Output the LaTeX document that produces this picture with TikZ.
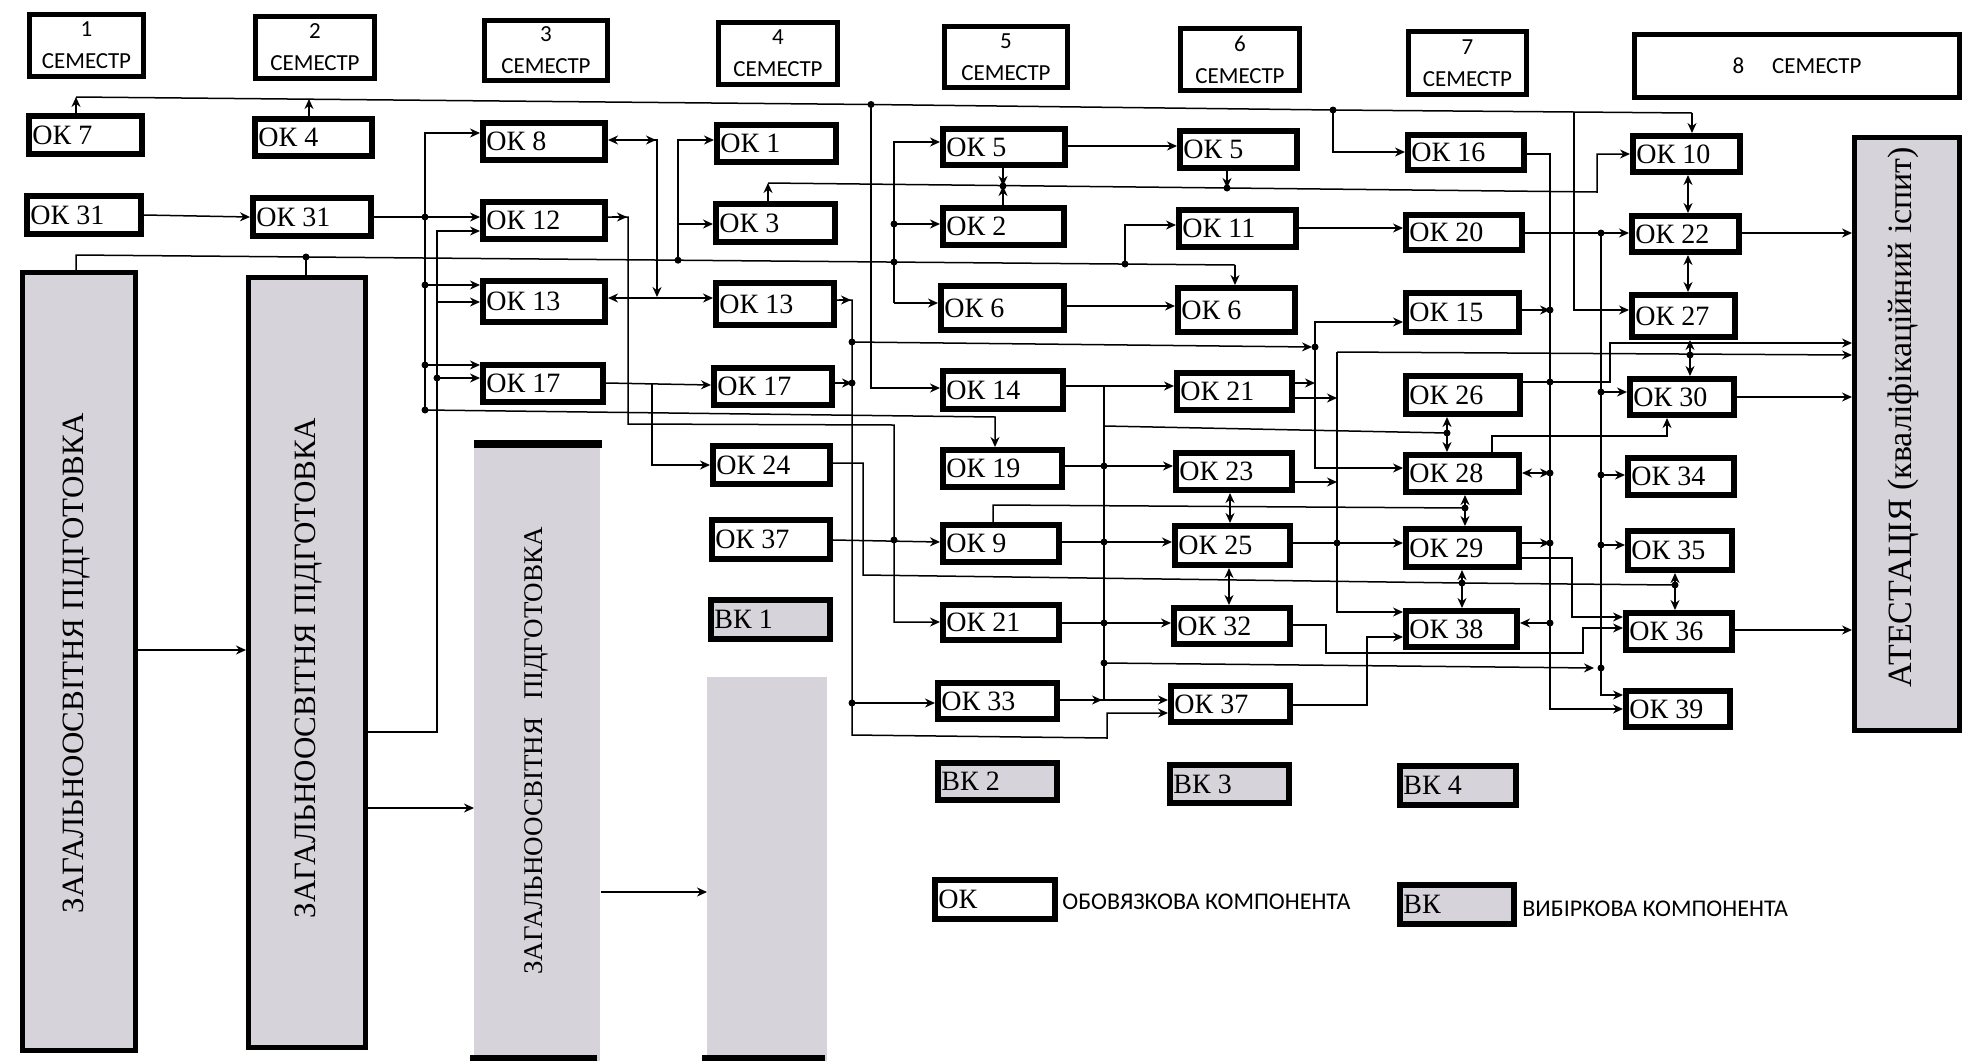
\documentclass[tikz,border=0pt]{standalone}
\usepackage{fontspec}
\setmainfont{Liberation Serif}
\newfontfamily\calib{Carlito}
\usetikzlibrary{arrows.meta}
\definecolor{bkgray}{RGB}{214,212,218}
\newcommand{\okfont}{\rmfamily\fontsize{14}{16}\selectfont}
\newcommand{\semfont}{\calib\fontsize{11.5}{16}\selectfont}
\newcommand{\mybx}[7]{%
 \pgfmathsetmacro{\mybw}{(#5-#3)*0.5-3}%
 \pgfmathsetmacro{\mybh}{(#6-#4)*0.5-3}%
 \node[#1, minimum width=\mybw pt, minimum height=\mybh pt, anchor=north west] (#2) at (#3,#4) {};%
 \node[oktxt] (#2-t) at ([xshift=3pt]#2.west) {#7};}
\newcommand{\mysem}[6]{%
 \pgfmathsetmacro{\mybw}{(#4-#2)*0.5-2.4}%
 \pgfmathsetmacro{\mybh}{(#5-#3)*0.5-2.4}%
 \node[semb, minimum width=\mybw pt, minimum height=\mybh pt, anchor=north west] (#1) at (#2,#3) {#6};}
\newcommand{\mybig}[5]{%
 \pgfmathsetmacro{\mybw}{(#4-#2)*0.5-2.5}%
 \pgfmathsetmacro{\mybh}{(#5-#3)*0.5-2.5}%
 \node[bigb, minimum width=\mybw pt, minimum height=\mybh pt, anchor=north west] (#1) at (#2,#3) {};}
\newcommand{\dt}[1]{\fill (#1) circle (1.75pt);}
\begin{document}
\begin{tikzpicture}[x=0.5pt,y=-0.5pt,
 okb/.style={draw, line width=3pt, fill=white, inner sep=0pt, outer sep=1.5pt},
 bkb/.style={draw, line width=3pt, fill=bkgray, inner sep=0pt, outer sep=1.5pt},
 semb/.style={draw, line width=2.4pt, fill=white, inner sep=0pt, outer sep=1.2pt, align=center, font=\semfont},
 bigb/.style={draw, line width=2.5pt, fill=bkgray, inner sep=0pt, outer sep=1.25pt},
 oktxt/.style={anchor=west, inner sep=0pt, font=\okfont},
 ln/.style={line width=0.75pt},
 arr/.style={-{Stealth[length=5pt,width=4.5pt]}},
 darr/.style={{Stealth[length=5pt,width=4.5pt]}-{Stealth[length=5pt,width=4.5pt]}},
 rtext/.style={rotate=90, inner sep=0pt}
]
\useasboundingbox (0,0) rectangle (1965,1061);
\fill[white] (0,0) rectangle (1965,1061);

% big boxes
\mybig{big1}{20}{270}{138}{1053}
\mybig{big2}{246}{275}{368}{1050}
\node[fill=bkgray, inner sep=0pt, minimum width=63pt, minimum height=309.5pt, anchor=north west] (big3) at (474,442) {};
\fill (474,440) rectangle (602,448);
\fill (470,1055) rectangle (597,1061);
\node[fill=bkgray, inner sep=0pt, minimum width=60pt, minimum height=192pt, anchor=north west] (big4) at (707,677) {};
\fill (702,1055) rectangle (825,1061);
\node[rtext, font=\rmfamily\fontsize{15.5}{18}\selectfont] (big1-t) at (77,663) {ЗАГАЛЬНООСВІТНЯ ПІДГОТОВКА};
\node[rtext, font=\rmfamily\fontsize{15.5}{18}\selectfont] (big2-t) at (309,668) {ЗАГАЛЬНООСВІТНЯ ПІДГОТОВКА};
\node[rtext, font=\rmfamily\fontsize{13.5}{16}\selectfont] (big3-t) at (536,751) {ЗАГАЛЬНООСВІТНЯ\hspace{9pt}ПІДГОТОВКА};
\mybig{att}{1852}{135}{1962}{733}
\node[rtext, font=\rmfamily\fontsize{17}{20}\selectfont] (att-t) at (1903,417) {АТЕСТАЦІЯ (кваліфікаційний іспит)};

% semester boxes
\mysem{s1}{27}{12}{146}{79}{1\\СЕМЕСТР}
\mysem{s2}{253}{14}{377}{81}{2\\СЕМЕСТР}
\mysem{s3}{482}{18}{610}{83}{3\\СЕМЕСТР}
\mysem{s4}{716}{20}{840}{87}{4\\СЕМЕСТР}
\mysem{s5}{942}{24}{1070}{90}{5\\СЕМЕСТР}
\mysem{s6}{1178}{26}{1302}{93}{6\\СЕМЕСТР}
\mysem{s7}{1406}{29}{1529}{97}{7\\СЕМЕСТР}
\mysem{s8}{1632}{32}{1962}{100}{8\hspace{14pt}СЕМЕСТР}

% component boxes
\mybx{okb}{ok7}{26}{113}{145}{157}{ОК 7}
\mybx{okb}{ok4}{252}{116}{375}{159}{ОК 4}
\mybx{okb}{ok31a}{24}{193}{144}{237}{ОК 31}
\mybx{okb}{ok31b}{250}{195}{374}{239}{ОК 31}
\mybx{okb}{ok8}{480}{120}{608}{163}{ОК 8}
\mybx{okb}{ok12}{480}{199}{608}{242}{ОК 12}
\mybx{okb}{ok13a}{480}{278}{608}{325}{ОК 13}
\mybx{okb}{ok17a}{480}{362}{606}{405}{ОК 17}
\mybx{okb}{ok1}{714}{122}{839}{165}{ОК 1}
\mybx{okb}{ok3}{713}{201}{838}{245}{ОК 3}
\mybx{okb}{ok13b}{713}{280}{837}{328}{ОК 13}
\mybx{okb}{ok17b}{711}{365}{835}{408}{ОК 17}
\mybx{okb}{ok24}{710}{443}{833}{487}{ОК 24}
\mybx{okb}{ok37a}{709}{517}{833}{562}{ОК 37}
\mybx{bkb}{bk1}{708}{597}{833}{642}{ВК 1}
\mybx{okb}{ok5a}{940}{126}{1068}{168}{ОК 5}
\mybx{okb}{ok2}{940}{205}{1067}{248}{ОК 2}
\mybx{okb}{ok6a}{938}{283}{1067}{333}{ОК 6}
\mybx{okb}{ok14}{940}{368}{1066}{412}{ОК 14}
\mybx{okb}{ok19}{940}{447}{1065}{490}{ОК 19}
\mybx{okb}{ok9}{940}{522}{1062}{565}{ОК 9}
\mybx{okb}{ok21a}{940}{602}{1062}{643}{ОК 21}
\mybx{okb}{ok33}{935}{680}{1060}{722}{ОК 33}
\mybx{bkb}{bk2}{935}{760}{1060}{803}{ВК 2}
\mybx{okb}{ok5b}{1177}{128}{1300}{171}{ОК 5}
\mybx{okb}{ok11}{1176}{207}{1299}{250}{ОК 11}
\mybx{okb}{ok6b}{1175}{285}{1298}{335}{ОК 6}
\mybx{okb}{ok21b}{1174}{370}{1295}{413}{ОК 21}
\mybx{okb}{ok23}{1173}{450}{1295}{493}{ОК 23}
\mybx{okb}{ok25}{1172}{523}{1293}{568}{ОК 25}
\mybx{okb}{ok32}{1171}{605}{1293}{647}{ОК 32}
\mybx{okb}{ok37b}{1168}{683}{1293}{725}{ОК 37}
\mybx{bkb}{bk3}{1167}{762}{1292}{806}{ВК 3}
\mybx{okb}{ok16}{1405}{132}{1527}{173}{ОК 16}
\mybx{okb}{ok20}{1403}{212}{1525}{253}{ОК 20}
\mybx{okb}{ok15}{1403}{290}{1522}{335}{ОК 15}
\mybx{okb}{ok26}{1403}{373}{1523}{417}{ОК 26}
\mybx{okb}{ok28}{1403}{452}{1522}{495}{ОК 28}
\mybx{okb}{ok29}{1403}{526}{1522}{570}{ОК 29}
\mybx{okb}{ok38}{1403}{608}{1520}{650}{ОК 38}
\mybx{bkb}{bk4}{1397}{763}{1519}{808}{ВК 4}
\mybx{okb}{ok10}{1630}{133}{1743}{175}{ОК 10}
\mybx{okb}{ok22}{1629}{213}{1742}{255}{ОК 22}
\mybx{okb}{ok27}{1629}{292}{1738}{340}{ОК 27}
\mybx{okb}{ok30}{1627}{376}{1737}{418}{ОК 30}
\mybx{okb}{ok34}{1625}{455}{1737}{498}{ОК 34}
\mybx{okb}{ok35}{1625}{528}{1735}{573}{ОК 35}
\mybx{okb}{ok36}{1623}{610}{1735}{653}{ОК 36}
\mybx{okb}{ok39}{1623}{688}{1733}{730}{ОК 39}
% legend
\mybx{okb}{lok}{932}{877}{1058}{922}{ОК}
\mybx{bkb}{lbk}{1397}{882}{1517}{927}{ВК}
\node[anchor=west, inner sep=0pt, font=\calib\fontsize{12}{14}\selectfont] (lok-d) at (1062,902) {ОБОВЯЗКОВА КОМПОНЕНТА};
\node[anchor=west, inner sep=0pt, font=\calib\fontsize{12}{14}\selectfont] (lbk-d) at (1522,909) {ВИБІРКОВА КОМПОНЕНТА};

% ---------- connectors ----------
% top bus
\draw[ln,arr] (76,0 |- ok7.north) -- (76,97);
\draw[ln,arr] (309,0 |- ok4.north) -- (309,99);
\draw[ln] (76,97) -- (871,104.5) -- (1333,110) -- (1574,112) -- (1692,113);
\draw[ln,arr] (1692,113) -- (1692,0 |- ok10.north);
\dt{871,104.5} \dt{1333,110}
\draw[ln,arr] (871,104.5) -- (871,388) -- (ok14.west |- 0,388);
\draw[ln,arr] (1333,110) -- (1333,152) -- (ok16.west |- 0,152);
\draw[ln,arr] (1574,112) -- (1574,310) -- (ok27.west |- 0,310);

% semester 1-3 links
\draw[ln,arr] (ok31a.east) -- (ok31b.west);
\draw[ln,arr] (ok31b.east) -- (ok12.west |- ok31b.east);
\dt{425,217}
\draw[ln,arr] (425,410) -- (425,133) -- (ok8.west |- 0,133);
\draw[ln,arr] (425,285) -- (ok13a.west |- 0,285);
\draw[ln,arr] (425,365) -- (ok17a.west |- 0,365);
\dt{425,285} \dt{425,365} \dt{425,410}
\draw[ln,arr] (425,410) -- (995,417) -- (995,0 |- ok19.north);
\draw[ln,arr] (big2.east |- 0,732) -- (437,732) -- (437,231) -- (ok12.west |- 0,231);
\draw[ln,arr] (437,302) -- (ok13a.west |- 0,302);
\draw[ln,arr] (437,378) -- (ok17a.west |- 0,378);
\dt{437,378}

% line from the big boxes
\draw[ln] (76,0 |- big1.north) -- (76,255) -- (1235,265);
\draw[ln,arr] (1235,265) -- (1235,0 |- ok6b.north);
\draw[ln] (306,257) -- (306,0 |- big2.north);
\dt{306,257} \dt{678,260.2} \dt{894,262} \dt{1125,264}
\draw[ln,arr] (678,260.2) -- (678,140) -- (ok1.west |- 0,140);
\draw[ln,arr] (678,224) -- (ok3.west |- 0,224);
\draw[ln,arr] (894,303) -- (894,142) -- (ok5a.west |- 0,142);
\draw[ln,arr] (894,224) -- (ok2.west |- 0,224); \dt{894,224}
\draw[ln,arr] (894,303) -- (ok6a.west |- 0,303);
\draw[ln,arr] (1125,264) -- (1125,225) -- (ok11.west |- 0,225);

% semester 3-4
\draw[ln,darr] (ok8.east |- 0,140) -- (657,140) -- (657,297);
\draw[ln,arr] (640,140) -- (656,140);
\draw[ln,darr] (ok13a.east |- 0,298) -- (ok13b.west |- 0,298);
\draw[ln,arr] (ok12.east |- 0,217) -- (628,217) -- (628,424) -- (894,425) -- (894,622) -- (ok21a.west |- 0,622);
\draw[ln,arr] (612,217) -- (627,217);
\draw[ln,arr] (ok37a.east |- 0,540) -- (ok9.west |- 0,542); \dt{894,540}
\draw[ln,arr] (ok13b.east |- 0,300) -- (852,300) -- (852,735) -- (1107,738) -- (1107,713) -- (ok37b.west |- 0,713);
\draw[ln,arr] (839,300) -- (851,300);
\dt{852,342}
\draw[ln,arr] (852,342) -- (1312,347);
\draw[ln,arr] (ok17b.east |- 0,383) -- (852,383); \dt{852,383}
\draw[ln,arr] (852,703) -- (ok33.west |- 0,703); \dt{852,703}
\draw[ln,arr] (ok17a.east |- 0,383) -- (ok17b.west |- 0,385);
\draw[ln,arr] (652,383) -- (652,465) -- (ok24.west |- 0,465);
\draw[ln] (ok24.east |- 0,463) -- (863,463) -- (863,575) -- (1462,583) -- (1675,585);
\dt{1462,583} \dt{1675,585}

% semester 5-6
\draw[ln] (993,0 |- ok9.north) -- (993,505) -- (1465,508); \dt{1465,508}
\draw[ln,arr] (ok14.east |- 0,386) -- (ok21b.west |- 0,386);
\draw[ln] (1104,386) -- (1104,700);
\draw[ln] (1104,426) -- (1447,433); \dt{1447,433}
\draw[ln,arr] (ok19.east |- 0,466) -- (ok23.west |- 0,466); \dt{1104,466}
\draw[ln,arr] (ok9.east |- 0,542) -- (ok25.west |- 0,542); \dt{1104,542}
\draw[ln,arr] (ok21a.east |- 0,623) -- (ok32.west |- 0,623); \dt{1104,623}
\draw[ln,arr] (1104,663) -- (1594,668); \dt{1104,663} \dt{1601,668}
\draw[ln,arr] (ok33.east |- 0,700) -- (ok37b.west |- 0,700);
\draw[ln,arr] (1085,700) -- (1102,700);
\draw[ln,darr] (ok23.south -| 1230,0) -- (ok25.north -| 1230,0);
\draw[ln,darr] (ok25.south -| 1229,0) -- (ok32.north -| 1229,0);
\draw[ln,arr] (ok5a.east |- 0,146) -- (ok5b.west |- 0,146);
\draw[ln,arr] (ok5a.south -| 1003,0) -- (1003,186);
\draw[ln,arr] (ok2.north -| 1003,0) -- (1003,186);
\draw[ln,arr] (768,0 |- ok3.north) -- (768,183);
\draw[ln,arr] (768,183) -- (1597,192) -- (1597,154) -- (ok10.west |- 0,154);
\dt{1003,186} \dt{1227,188}
\draw[ln,arr] (ok5b.south -| 1227,0) -- (1227,188);
\draw[ln,arr] (ok11.east |- 0,228) -- (ok20.west |- 0,228);
\draw[ln,arr] (ok6a.east |- 0,306) -- (ok6b.west |- 0,306);

% semester 6-7
\dt{1315,347}
\draw[ln,arr] (1315,347) -- (1315,322) -- (ok15.west |- 0,322);
\draw[ln,arr] (1315,347) -- (1315,468) -- (ok28.west |- 0,468);
\draw[ln,arr] (ok21b.east |- 0,383) -- (1315,383);
\draw[ln,arr] (ok21b.east |- 0,398) -- (1337,398);
\draw[ln,arr] (1337,352) -- (1337,612) -- (ok38.west |- 0,612);
\draw[ln,arr] (1337,352) -- (att.west |- 0,355);
\dt{1690,355}
\draw[ln,arr] (ok23.east |- 0,482) -- (1337,482);
\draw[ln,arr] (ok25.east |- 0,543) -- (ok29.west |- 0,543); \dt{1337,543}
\draw[ln,arr] (ok32.east |- 0,625) -- (1326,625) -- (1326,653) -- (1583,653) -- (1583,628) -- (ok36.west |- 0,628);
\draw[ln,arr] (ok37b.east |- 0,705) -- (1367,705) -- (1367,637) -- (ok38.west |- 0,637);

% semester 7-8
\draw[ln,arr] (ok16.east |- 0,154) -- (1550,154) -- (1550,709) -- (ok39.west |- 0,709);
\draw[ln,arr] (ok15.east |- 0,310) -- (1550,310); \dt{1550,310}
\draw[ln,arr] (ok26.east |- 0,382) -- (1610,382) -- (1610,343) -- (att.west |- 0,343); \dt{1550,382}
\draw[ln,darr] (ok28.east |- 0,473) -- (1550,473); \dt{1550,473}
\draw[ln,arr] (ok29.east |- 0,543) -- (1550,543); \dt{1550,543}
\draw[ln,arr] (1550,623) -- (ok38.east |- 0,623); \dt{1550,623}
\draw[ln,arr] (ok29.east |- 0,558) -- (1572,558) -- (1572,617) -- (ok36.west |- 0,617);
\draw[ln,arr] (ok20.east |- 0,233) -- (ok22.west |- 0,233); \dt{1601,233}
\draw[ln,arr] (1601,233) -- (1601,695) -- (ok39.west |- 0,695);
\draw[ln,arr] (1601,392) -- (ok30.west |- 0,392); \dt{1601,392}
\draw[ln,arr] (1601,475) -- (ok34.west |- 0,475); \dt{1601,475}
\draw[ln,arr] (1601,545) -- (ok35.west |- 0,545); \dt{1601,545}
\draw[ln,darr] (ok10.south -| 1688,0) -- (ok22.north -| 1688,0);
\draw[ln,darr] (ok22.south -| 1688,0) -- (ok27.north -| 1688,0);
\draw[ln,darr] (ok27.south -| 1690,0) -- (ok30.north -| 1690,0);
\draw[ln,arr] (ok22.east |- 0,233) -- (att.west |- 0,233);
\draw[ln,arr] (ok30.east |- 0,397) -- (att.west |- 0,397);
\draw[ln,arr] (ok36.east |- 0,630) -- (att.west |- 0,630);
\draw[ln,darr] (ok26.south -| 1447,0) -- (ok28.north -| 1447,0);
\draw[ln,arr] (1492,0 |- ok28.north) -- (1492,436) -- (1667,436) -- (1667,0 |- ok30.south);
\draw[ln,darr] (ok28.south -| 1465,0) -- (ok29.north -| 1465,0);
\draw[ln,darr] (ok29.south -| 1462,0) -- (ok38.north -| 1462,0);
\draw[ln,darr] (ok35.south -| 1675,0) -- (ok36.north -| 1675,0);

% big box arrows
\draw[ln,arr] (big1.east |- 0,650) -- (big2.west |- 0,650);
\draw[ln,arr] (big2.east |- 0,808) -- (big3.west |- 0,808);
\draw[ln,arr] (big3.east |- 0,892) -- (big4.west |- 0,892);
\end{tikzpicture}
\end{document}
